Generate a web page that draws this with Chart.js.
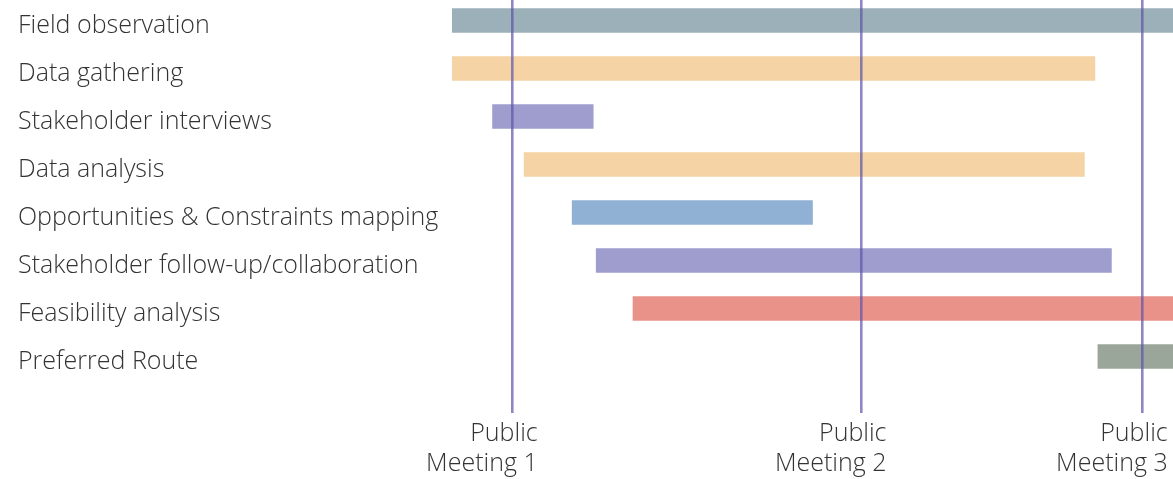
<!DOCTYPE html>
<html>
<head>
<meta charset="utf-8">
<script src="https://cdn.jsdelivr.net/npm/chart.js@4"></script>
<style>
  html, body { margin: 0; padding: 0; background: #ffffff; }
  #wrap { width: 1173px; height: 479px; position: relative; }
</style>
</head>
<body>
<div id="wrap"><canvas id="c"></canvas></div>
<script>
// Tasks (rows, top to bottom)
const tasks = [
  'Field observation',
  'Data gathering',
  'Stakeholder interviews',
  'Data analysis',
  'Opportunities & Constraints mapping',
  'Stakeholder follow-up/collaboration',
  'Feasibility analysis',
  'Preferred Route'
];
// Start and end of each task (weeks)
const taskStart = [0, 0, 2.7, 4.8, 8.0, 9.6, 12.05, 43.0];
const taskEnd   = [48, 42.8, 9.4, 42.1, 24.0, 43.9, 48, 48];
const taskColors = ['#9cb0ba', '#f5d3a5', '#9e9dce', '#f5d3a5', '#91b1d4', '#9e9dce', '#e9928a', '#9ba69a'];
// Public meetings (weeks)
const meetingWeeks = [4.04, 27.26, 45.98];
const meetingLabels = [['Public', 'Meeting 1'], ['Public', 'Meeting 2'], ['Public', 'Meeting 3']];
const weekMin = 0, weekMax = 48;

const data = tasks.map((t, i) => ({ x: [taskStart[i], taskEnd[i]], y: i }));

const FONT = '"Open Sans", sans-serif';

new Chart(document.getElementById('c'), {
  type: 'bar',
  data: {
    datasets: [{
      data: data,
      backgroundColor: taskColors,
      borderWidth: 0,
      barThickness: 24,
      borderSkipped: false
    }]
  },
  options: {
    indexAxis: 'y',
    responsive: true,
    maintainAspectRatio: false,
    animation: false,
    layout: { padding: { left: 18, right: 0, top: 0, bottom: 0 } },
    plugins: { legend: { display: false }, tooltip: { enabled: false } },
    scales: {
      x: {
        type: 'linear',
        position: 'bottom',
        min: weekMin,
        max: weekMax,
        afterBuildTicks: (s) => { s.ticks = meetingWeeks.map(v => ({ value: v })); },
        afterFit: (s) => { s.height = 98.5; s.paddingLeft = 0; s.paddingRight = 0; },
        grid: {
          display: true,
          color: 'rgba(92,84,170,0.7)',
          lineWidth: 2.6,
          drawTicks: true,
          tickLength: 32.5,
          z: 1
        },
        border: { display: false },
        ticks: {
          autoSkip: false,
          maxRotation: 0,
          align: 'end',
          labelOffset: 25,
          padding: 5.5,
          color: '#333333',
          font: { family: FONT, size: 25, weight: '300', lineHeight: 1.22 },
          callback: (v, i) => meetingLabels[i]
        }
      },
      y: {
        type: 'linear',
        reverse: true,
        offset: false,
        min: -0.427,
        max: 7.5,
        afterBuildTicks: (s) => { s.ticks = tasks.map((t, i) => ({ value: i })); },
        afterFit: (s) => { s.width = 434; s.paddingTop = 0; s.paddingBottom = 0; },
        grid: { display: false },
        border: { display: false },
        ticks: {
          autoSkip: false,
          crossAlign: 'far',
          labelOffset: 5.5,
          color: '#333333',
          font: { family: FONT, size: 25, weight: '300' },
          callback: (v) => tasks[v]
        }
      }
    }
  }
});
</script>
</body>
</html>
